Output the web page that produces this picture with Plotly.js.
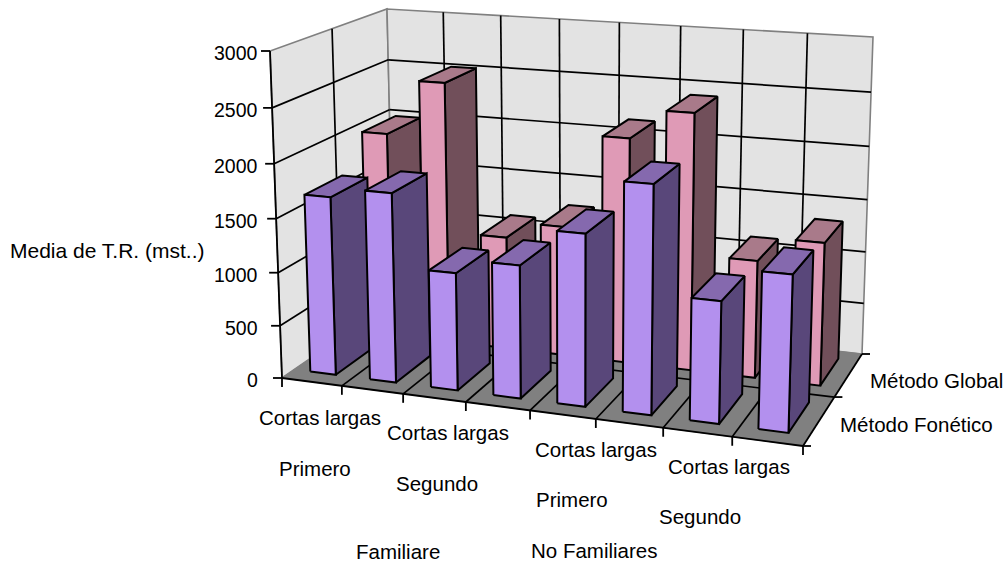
<!DOCTYPE html>
<html>
<head>
<meta charset="utf-8">
<script src="https://cdn.plot.ly/plotly-3.0.1.min.js"></script>
<style>html,body{margin:0;padding:0;background:#fff}#chart{width:1003px;height:563px}</style>
</head>
<body>
<div id="chart"></div>
<script>
// Mean reaction time by word type, familiarity and reading method.
const metodoFonetico = [1673, 1763, 1091, 1222, 1563, 2047, 1093, 1386];
const metodoGlobal   = [1990, 2516, 1092, 1248, 2130, 2405, 1104, 1329];
const seriesNames = ['Método Fonético', 'Método Global'];
const valueTicks = [0, 500, 1000, 1500, 2000, 2500, 3000];
const valueMax = 3000;
const categoryCount = 8;
const yTitle = 'Media de T.R. (mst..)';
const levelOne = ['Cortas largas', 'Cortas largas', 'Cortas largas', 'Cortas largas'];
const levelTwo = ['Primero', 'Segundo', 'Primero', 'Segundo'];
const levelThree = ['Familiare', 'No Familiares'];

// Box corners on the page, used for the oblique view of the chart cube.
const floorQuad = [[282,378],[803,446],[862,354],[394,301]];
const topQuad   = [[270,51],[813.3,87.4],[873,37],[387,9]];
const heightBias = 0.95;

// Unit square to quadrilateral perspective mapping.
function homography(q){
  const [[x0,y0],[x1,y1],[x2,y2],[x3,y3]] = q;
  const dx1=x1-x2, dx2=x3-x2, sx=x0-x1+x2-x3;
  const dy1=y1-y2, dy2=y3-y2, sy=y0-y1+y2-y3;
  const det=dx1*dy2-dx2*dy1;
  const g=(sx*dy2-dx2*sy)/det, h=(dx1*sy-sx*dy1)/det;
  const a=x1-x0+g*x1, b=x3-x0+h*x3, d=y1-y0+g*y1, e=y3-y0+h*y3;
  return (u,w)=>{const n=g*u+h*w+1;return [(a*u+b*w+x0)/n,(d*u+e*w+y0)/n];};
}
const floorMap = homography(floorQuad), topMap = homography(topQuad);

// cat in 0..8, depth in 0..2, val in axis units
function project(cat, depth, val){
  const f=floorMap(cat/categoryCount, depth/2), t=topMap(cat/categoryCount, depth/2);
  const r=val/valueMax, k=r*heightBias/((1-r)+r*heightBias);
  return [f[0]+(t[0]-f[0])*k, f[1]+(t[1]-f[1])*k];
}

const traces=[];
function poly(pts, fill, line, width){
  const closed=pts.concat([pts[0]]);
  traces.push({type:'scatter',mode:'lines',x:closed.map(p=>p[0]),y:closed.map(p=>p[1]),
    fill:'toself',fillcolor:fill,line:{color:line,width:width},hoverinfo:'skip',showlegend:false});
}
function segs(list, color, width){
  const x=[],y=[];
  list.forEach(s=>{x.push(s[0][0],s[1][0],null);y.push(s[0][1],s[1][1],null);});
  traces.push({type:'scatter',mode:'lines',x:x,y:y,line:{color:color,width:width},hoverinfo:'skip',showlegend:false});
}

// Walls and floor
const n=categoryCount;
poly([project(0,0,0),project(0,0,valueMax),project(0,2,valueMax),project(0,2,0)],'#E3E3E3','#808080',1.6);
poly([project(0,2,0),project(0,2,valueMax),project(n,2,valueMax),project(n,2,0)],'#E3E3E3','#808080',1.6);
poly([project(0,0,0),project(n,0,0),project(n,2,0),project(0,2,0)],'#808080','#808080',1);

// Gridlines
const grid=[];
valueTicks.slice(1,-1).forEach(v=>{
  grid.push([project(0,0,v),project(0,2,v)]);
  grid.push([project(0,2,v),project(n,2,v)]);
});
grid.push([project(0,1,0),project(0,1,valueMax)]);
for(let i=1;i<n;i++) grid.push([project(i,2,0),project(i,2,valueMax)]);
for(let i=1;i<n;i++) grid.push([project(i,0,0),project(i,2,0)]);
grid.push([project(0,1,0),project(n,1,0)]);
segs(grid,'#000000',1.7);

// Axis lines and tick marks
const axes=[[project(0,0,0),project(0,0,valueMax)],[project(0,0,0),project(n,0,0)],[project(n,0,0),project(n,2,0)]];
valueTicks.forEach(v=>{const p=project(0,0,v);axes.push([[p[0]-9,p[1]],p]);});
for(let i=0;i<=n;i++){const p=project(i,0,0);axes.push([p,[p[0],p[1]+9]]);}
for(let d=0;d<=2;d++){const p=project(n,d,0);axes.push([p,[p[0]+8,p[1]]]);}
segs(axes,'#000000',1.8);

// Bars, back row first and left to right so nearer faces cover farther ones
const barLo=0.27, barHi=0.7, depthLo=0.2, depthHi=0.83;
const rowStyle=[
  {front:'#B390EE',top:'#8569AE',side:'#59477A'},
  {front:'#DF9AB6',top:'#A97A8A',side:'#714F5A'}
];
[[1,metodoGlobal],[0,metodoFonetico]].forEach(([row,vals])=>{
  const c=rowStyle[row], d0=row+depthLo, d1=row+depthHi;
  vals.forEach((v,i)=>{
    const u0=i+barLo,u1=i+barHi;
    poly([project(u1,d0,0),project(u1,d1,0),project(u1,d1,v),project(u1,d0,v)],c.side,'#000',2);
    poly([project(u0,d0,v),project(u1,d0,v),project(u1,d1,v),project(u0,d1,v)],c.top,'#000',2);
    poly([project(u0,d0,0),project(u1,d0,0),project(u1,d0,v),project(u0,d0,v)],c.front,'#000',2);
  });
});

// Text
const family='"Liberation Sans", Arial, sans-serif';
const ann=[];
function label(text,x,y,anchor,size){
  ann.push({text:text,x:x,y:y,xref:'x',yref:'y',showarrow:false,xanchor:anchor||'center',yanchor:'middle',
    font:{family:family,size:size||20.5,color:'#000'},borderpad:0});
}
valueTicks.forEach(v=>{const p=project(0,0,v);label(String(v),259,p[1]+2,'right',19.5);});
label(yTitle,107,250,'center',21);
const l1pos=[[320,417],[448,432],[596,449],[729,466]];
const l2pos=[[315,468],[437,483],[572,499],[700,516]];
const l3pos=[[398,551],[594,550]];
levelOne.forEach((t,i)=>label(t,l1pos[i][0],l1pos[i][1]));
levelTwo.forEach((t,i)=>label(t,l2pos[i][0],l2pos[i][1]));
levelThree.forEach((t,i)=>label(t,l3pos[i][0],l3pos[i][1]));
label(seriesNames[1],869,380,'left');
label(seriesNames[0],839,424,'left');

Plotly.newPlot('chart',traces,{
  width:1003,height:563,margin:{l:0,r:0,t:0,b:0},
  paper_bgcolor:'#fff',plot_bgcolor:'#fff',showlegend:false,
  xaxis:{range:[0,1003],visible:false,fixedrange:true},
  yaxis:{range:[563,0],visible:false,fixedrange:true},
  annotations:ann
},{displayModeBar:false,staticPlot:true});
</script>
</body>
</html>
